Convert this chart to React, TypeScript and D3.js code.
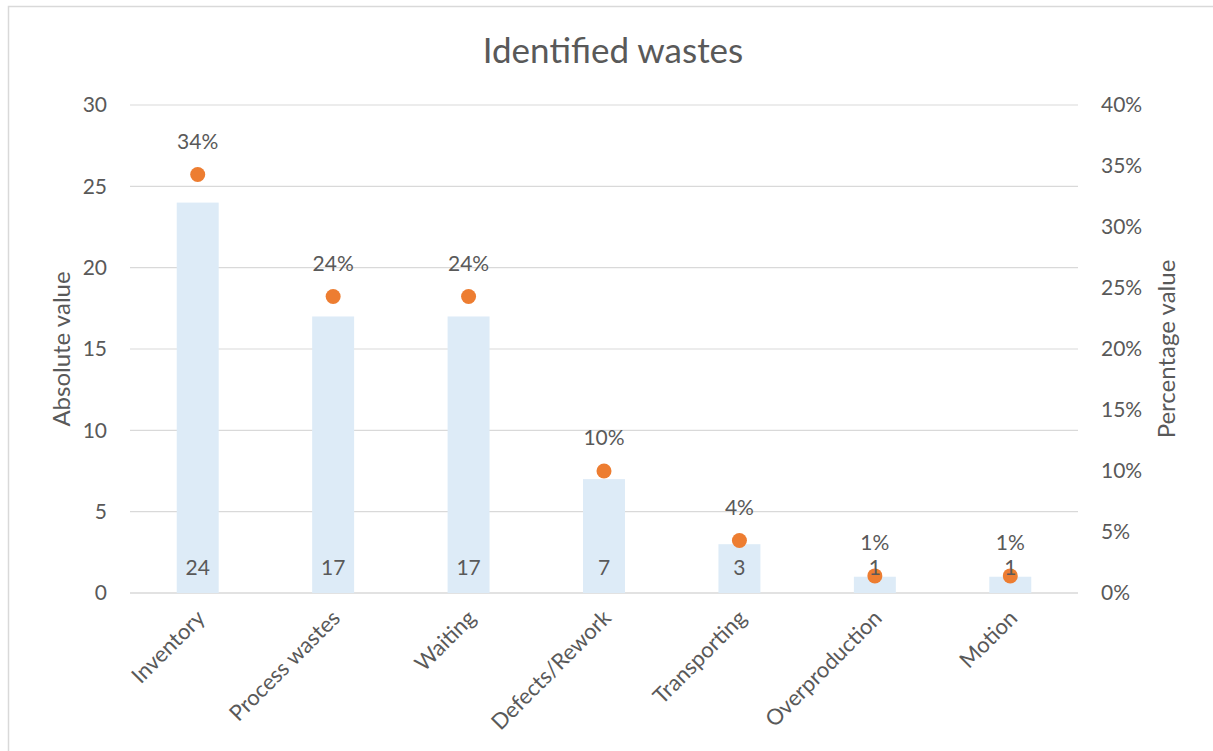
import React from "react";
import * as d3 from "d3";

const categories = ["Inventory", "Process wastes", "Waiting", "Defects/Rework", "Transporting", "Overproduction", "Motion"];
const absoluteValues = [24, 17, 17, 7, 3, 1, 1];
const percentValues = [0.343, 0.243, 0.243, 0.1, 0.043, 0.014, 0.014];
const leftTicks = [0, 5, 10, 15, 20, 25, 30];
const rightTicks = [0, 0.05, 0.1, 0.15, 0.2, 0.25, 0.3, 0.35, 0.4];

const W = 1213;
const H = 751;
const FONT = "Lato, 'Open Sans', sans-serif";
const TEXT = "#595959";

export default function App() {
  const left = 130;
  const right = 1078;
  const top = 105;
  const bottom = 593;

  const x = d3.scaleBand<string>().domain(categories).range([left, right]).paddingInner(0.69).paddingOuter(0.345);
  const center = (c: string) => (x(c) as number) + x.bandwidth() / 2;
  const yL = d3.scaleLinear().domain([0, 30]).range([bottom, top]);
  const yR = d3.scaleLinear().domain([0, 0.4]).range([bottom, top]);
  const pct = d3.format(".0%");

  return (
    <svg width={W} height={H} style={{ position: "absolute", left: 0, top: 0, background: "#fff" }} fontFamily={FONT}>
      <rect x={8.5} y={6.5} width={W + 10} height={H + 10} fill="#fff" stroke="#D9D9D9" strokeWidth={1.5} />
      <text x={613} y={63} textAnchor="middle" fontSize={35} fill={TEXT}>Identified wastes</text>

      {leftTicks.map((t) => (
        <g key={"g" + t}>
          <line x1={left} x2={right} y1={yL(t)} y2={yL(t)} stroke="#D9D9D9" strokeWidth={t === 0 ? 1.5 : 1.2} />
          <text x={107} y={yL(t)} dy="0.35em" textAnchor="end" fontSize={21} fill={TEXT}>{t}</text>
        </g>
      ))}
      {rightTicks.map((t) => (
        <text key={"r" + t} x={1101} y={yR(t)} dy="0.35em" textAnchor="start" fontSize={21} fill={TEXT}>{pct(t)}</text>
      ))}

      <text transform={`translate(70,${(top + bottom) / 2}) rotate(-90)`} textAnchor="middle" fontSize={24} fill={TEXT}>Absolute value</text>
      <text transform={`translate(1175,${(top + bottom) / 2}) rotate(-90)`} textAnchor="middle" fontSize={24} fill={TEXT}>Percentage value</text>

      {categories.map((c, i) => (
        <rect key={"b" + c} x={x(c)} y={yL(absoluteValues[i])} width={x.bandwidth()} height={bottom - yL(absoluteValues[i])} fill="#DDEBF7" />
      ))}
      {categories.map((c, i) => (
        <circle key={"d" + c} cx={center(c)} cy={yR(percentValues[i])} r={7.5} fill="#ED7D31" />
      ))}
      {categories.map((c, i) => (
        <text key={"v" + c} x={center(c)} y={bottom - 25} dy="0.35em" textAnchor="middle" fontSize={21} fill={TEXT}>{absoluteValues[i]}</text>
      ))}
      {categories.map((c, i) => (
        <text key={"p" + c} x={center(c)} y={yR(percentValues[i]) - 33} dy="0.35em" textAnchor="middle" fontSize={21} fill={TEXT}>{pct(percentValues[i])}</text>
      ))}
      {categories.map((c) => (
        <text key={"x" + c} transform={`translate(${center(c) + 3},${bottom + 21}) rotate(-45)`} textAnchor="end" dy="0.35em" fontSize={22} fill={TEXT}>{c}</text>
      ))}
    </svg>
  );
}
